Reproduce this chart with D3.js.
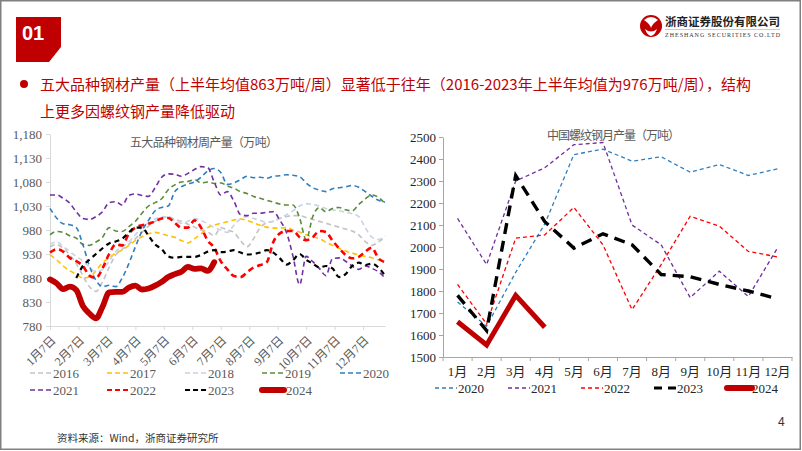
<!DOCTYPE html>
<html><head><meta charset="utf-8">
<script src="https://cdn.jsdelivr.net/npm/d3@7"></script>
<style>body{margin:0;background:#fff}svg{display:block}</style>
</head><body><svg id="c" width="802" height="451"></svg>
<script>
// ---------- data: left chart (weekly output, 10k t) ----------
const weekTicks = ["1月7日","2月7日","3月7日","4月7日","5月7日","6月7日","7月7日","8月7日","9月7日","10月7日","11月7日","12月7日"];
const leftYTicks = [780,830,880,930,980,1030,1080,1130,1180];
const leftYears = ["2016","2017","2018","2019","2020","2021","2022","2023","2024"];
const s2016 = [945,950,942,928,910,885,862,852,872,902,928,940,950,962,975,988,998,1004,1008,1002,998,992,986,980,976,968,985,980,975,958,945,962,985,995,998,1004,1008,1010,1010,1006,1002,998,994,990,986,982,978,970,956,948,955,966];
const s2017 = [928,918,905,895,888,880,882,895,912,922,932,938,948,958,966,972,975,972,968,965,958,953,962,972,985,990,994,997,1001,1003,1000,995,990,986,984,984,985,980,976,970,966,962,955,948,942,936,932,928,925,922,918,915];
const s2018 = [950,955,946,935,925,915,903,893,898,915,935,945,955,970,985,995,1003,1008,1006,1000,994,998,1004,1000,993,985,980,975,990,1003,1008,1004,1000,996,998,1005,1012,1020,1030,1035,1033,1030,1025,1022,1020,1017,1014,1008,985,965,960,968];
const s2019 = [970,977,975,968,963,950,948,955,965,985,978,977,987,998,1015,1030,1037,1045,1064,1074,1080,1081,1085,1078,1080,1077,1078,1072,1067,1060,1056,1050,1046,1042,1038,1034,1032,1032,1005,960,1008,1027,1018,1025,1027,1022,1020,1033,1045,1053,1048,1035];
const s2020 = [1025,1005,993,991,985,950,905,875,862,865,862,880,910,945,978,1000,1020,1027,1030,1060,1070,1076,1080,1090,1103,1108,1100,1075,1078,1085,1092,1089,1090,1088,1092,1093,1095,1094,1091,1078,1068,1063,1060,1066,1068,1070,1073,1069,1060,1050,1042,1038];
const s2021 = [1053,1053,1046,1036,1018,1004,1002,1008,1018,1037,1039,1032,1052,1055,1052,1050,1068,1090,1097,1096,1092,1098,1106,1112,1110,1080,1053,1060,1040,1012,1010,1015,1015,1017,1018,1000,975,925,866,925,914,900,885,920,922,915,905,898,905,900,893,880];
const s2022 = [933,940,935,922,915,905,885,880,900,930,950,948,972,985,990,993,998,1004,1005,995,985,985,1000,985,958,943,915,898,884,882,892,902,907,913,955,973,978,978,965,959,965,978,976,958,942,928,921,924,935,943,921,913];
const s2023 = [null,null,null,null,880,905,918,930,942,952,956,962,975,985,985,968,950,940,925,922,924,924,924,928,935,938,934,935,938,933,929,930,933,938,933,921,908,917,930,918,910,902,905,900,882,888,905,912,907,910,902,885];
const s2024 = [877,869,857,862,855,822,806,796,820,850,851,851,860,864,856,858,864,872,882,888,893,903,899,900,895,913];

// ---------- data: right chart (monthly rebar output, 10k t) ----------
const months = ["1月","2月","3月","4月","5月","6月","7月","8月","9月","10月","11月","12月"];
const rightYTicks = [1500,1600,1700,1800,1900,2000,2100,2200,2300,2400,2500];
const rightYears = ["2020","2021","2022","2023","2024"];
const r2020 = [1750,1640,1885,2105,2420,2445,2390,2410,2340,2375,2325,2355];
const r2021 = [2130,1920,2300,2360,2465,2475,2100,2010,1770,1890,1775,1995];
const r2022 = [1830,1650,2040,2055,2180,2010,1715,1920,2140,2095,1980,1955];
const r2023 = [1780,1620,2325,2115,1995,2060,2010,1875,1865,1830,1800,1765];
const r2024 = [1660,1555,1780,1635];

// ---------- styles ----------
const F_SERIF = "'Liberation Serif','Times New Roman','Noto Sans CJK SC',serif";
const F_CJK = "'Noto Sans CJK SC','Microsoft YaHei',sans-serif";
const RED = "#c00000";
const leftStyle = {
  "2016": {c:"#c3c3c3", w:1.6, d:"5,3.5"},
  "2017": {c:"#ffc000", w:1.6, d:"5,3.5"},
  "2018": {c:"#c8d2e4", w:1.6, d:"5,3.5"},
  "2019": {c:"#5b8c3a", w:1.6, d:"5,3.5"},
  "2020": {c:"#2e7fc0", w:1.6, d:"5,3.5"},
  "2021": {c:"#7030a0", w:1.6, d:"5,3.5"},
  "2022": {c:"#ff0000", w:2.6, d:"6,4"},
  "2023": {c:"#000000", w:2.2, d:"5,4"},
  "2024": {c:RED, w:5.8, d:null}
};
const rightStyle = {
  "2020": {c:"#2e7fc0", w:1.3, d:"4,3"},
  "2021": {c:"#7030a0", w:1.3, d:"4,3"},
  "2022": {c:"#ff0000", w:1.3, d:"4,3"},
  "2023": {c:"#000000", w:3.4, d:"11,7"},
  "2024": {c:RED, w:5, d:null}
};

const svg = d3.select("#c");
svg.append("rect").attr("x",0.75).attr("y",0.75).attr("width",799.5).attr("height",448.5)
  .attr("fill","#fff").attr("stroke","#808080").attr("stroke-width",1.5);

// ---------- header ----------
svg.append("polygon").attr("points","16,17 61,17 61,47 49,62 16,62").attr("fill",RED);
svg.append("text").attr("x",33).attr("y",40).attr("text-anchor","middle")
  .attr("font-family","'Liberation Sans',Arial,sans-serif").attr("font-weight","bold")
  .attr("font-size",20).attr("fill","#fff").text("01");

// logo
const logo = svg.append("g");
logo.append("circle").attr("cx",651).attr("cy",26).attr("r",11).attr("fill",RED);
logo.append("path").attr("d","M644,20 Q651,14 658,20 Q652,24 651,28 Q650,24 644,20 Z M645,29 Q651,34 657,29 Q655,35 651,36 Q647,35 645,29 Z").attr("fill","#fff");
logo.append("text").attr("x",665).attr("y",26).attr("font-family",F_CJK).attr("font-weight","bold")
  .attr("font-size",11.5).attr("fill","#222").attr("textLength",115).text("浙商证券股份有限公司");
logo.append("line").attr("x1",665).attr("x2",780).attr("y1",29.5).attr("y2",29.5).attr("stroke","#999").attr("stroke-width",0.5);
logo.append("text").attr("x",665).attr("y",36.5).attr("font-family",F_SERIF)
  .attr("font-size",6).attr("fill","#333").attr("textLength",115).text("ZHESHANG SECURITIES CO.LTD");

// bullet text
svg.append("circle").attr("cx",24).attr("cy",84).attr("r",4).attr("fill",RED);
svg.append("text").attr("x",40).attr("y",90).attr("font-family",F_CJK).attr("font-size",15).attr("fill",RED)
  .text("五大品种钢材产量（上半年均值863万吨/周）显著低于往年（2016-2023年上半年均值为976万吨/周），结构");
svg.append("text").attr("x",40).attr("y",117).attr("font-family",F_CJK).attr("font-size",15).attr("fill",RED)
  .text("上更多因螺纹钢产量降低驱动");

// ---------- left chart ----------
const xL = d3.scaleLinear().domain([0,51]).range([50,385]);
const yL = d3.scaleLinear().domain([780,1180]).range([326,134]);

const gyL = svg.append("g").attr("transform",`translate(${xL(0)},0)`)
  .call(d3.axisLeft(yL).tickValues(leftYTicks).tickFormat(d3.format(",")).tickSize(4).tickSizeOuter(0).tickPadding(4));
gyL.select(".domain").attr("stroke","#d9d9d9");
gyL.selectAll(".tick line").attr("stroke","#d9d9d9");
gyL.selectAll("text").attr("font-family",F_SERIF).attr("font-size",13).attr("fill","#595959");

const monthPos = weekTicks.map((_,i)=> i*52/12);
const gxL = svg.append("g").attr("transform",`translate(0,${yL(780)})`)
  .call(d3.axisBottom(xL).tickValues(monthPos).tickFormat((d,i)=>weekTicks[i]).tickSize(4).tickSizeOuter(0));
gxL.select(".domain").attr("stroke","#d9d9d9");
gxL.selectAll(".tick line").attr("stroke","#d9d9d9");
gxL.selectAll("text").attr("font-family",F_SERIF).attr("font-size",12).attr("fill","#595959")
  .attr("x",0).attr("y",0).attr("dy","0.35em").attr("transform","translate(3,12) rotate(-45)")
  .style("text-anchor","end");

svg.append("text").attr("x",130).attr("y",147).attr("font-family",F_CJK).attr("font-size",12)
  .attr("fill","#595959").attr("textLength",148).text("五大品种钢材周产量（万吨）");

const leftSeries = [s2016,s2017,s2018,s2019,s2020,s2021,s2022,s2023,s2024];
const lineL = d3.line().defined(d=>d!=null).x((d,i)=>xL(i)).y(d=>yL(d)).curve(d3.curveMonotoneX);
leftSeries.forEach((s,k)=>{
  const st = leftStyle[leftYears[k]];
  svg.append("path").datum(s).attr("d",lineL).attr("fill","none")
    .attr("stroke",st.c).attr("stroke-width",st.w).attr("stroke-dasharray",st.d)
    .attr("stroke-linejoin","round").attr("stroke-linecap", st.d ? "butt" : "round");
});

// left legend
const legLx = [30,107,185,262,340];
const legLy = [373,390];
leftYears.forEach((yr,k)=>{
  const st = leftStyle[yr];
  const x0 = legLx[k%5], y0 = legLy[Math.floor(k/5)];
  svg.append("line").attr("x1",x0).attr("x2",x0+22).attr("y1",y0).attr("y2",y0)
    .attr("stroke",st.c).attr("stroke-width",st.d?Math.min(st.w,2):6).attr("stroke-dasharray",st.d?"5,3":null)
    .attr("stroke-linecap",st.d?"butt":"round");
  svg.append("text").attr("x",x0+(st.d?23:24)).attr("y",y0).attr("dy","0.35em")
    .attr("font-family",F_SERIF).attr("font-size",13).attr("fill","#595959").text(yr);
});

// ---------- right chart ----------
const xR = d3.scaleBand().domain(months).range([443,792]);
const yR = d3.scaleLinear().domain([1500,2500]).range([357,137]);

const gyR = svg.append("g").attr("transform",`translate(443,0)`)
  .call(d3.axisLeft(yR).tickValues(rightYTicks).tickFormat(d3.format("d")).tickSize(4).tickSizeOuter(0).tickPadding(3));
gyR.select(".domain").attr("stroke","#a6a6a6");
gyR.selectAll(".tick line").attr("stroke","#a6a6a6");
gyR.selectAll("text").attr("font-family",F_SERIF).attr("font-size",13).attr("fill","#262626");

const gxR = svg.append("g").attr("transform",`translate(0,${yR(1500)})`)
  .call(d3.axisBottom(xR).tickSize(0).tickPadding(10).tickSizeOuter(0));
gxR.select(".domain").attr("stroke","#a6a6a6");
gxR.selectAll("text").attr("font-family",F_SERIF).attr("font-size",13).attr("fill","#262626");
months.concat(["end"]).forEach((m,i)=>{
  const x = i<months.length ? xR(m) : xR(months[months.length-1])+xR.bandwidth();
  gxR.append("line").attr("x1",x).attr("x2",x).attr("y1",0).attr("y2",4).attr("stroke","#a6a6a6");
});

svg.append("text").attr("x",547).attr("y",140).attr("font-family",F_CJK).attr("font-size",12)
  .attr("fill","#595959").attr("textLength",133).text("中国螺纹钢月产量（万吨）");

const rightSeries = [r2020,r2021,r2022,r2023,r2024];
const lineR = d3.line().x((d,i)=>xR(months[i])+xR.bandwidth()/2).y(d=>yR(d));
rightSeries.forEach((s,k)=>{
  const st = rightStyle[rightYears[k]];
  svg.append("path").datum(s).attr("d",lineR).attr("fill","none")
    .attr("stroke",st.c).attr("stroke-width",st.w).attr("stroke-dasharray",st.d)
    .attr("stroke-linejoin","miter").attr("stroke-linecap","butt");
});

// right legend
const legRx = [435,508,581,654,727];
rightYears.forEach((yr,k)=>{
  const st = rightStyle[yr];
  const x0 = legRx[k], y0 = 388;
  let dash = st.d ? (yr==="2023" ? "8,6" : "4,3") : null;
  svg.append("line").attr("x1",x0).attr("x2",x0+(yr==="2024"?25:22)).attr("y1",y0).attr("y2",y0)
    .attr("stroke",st.c).attr("stroke-width",yr==="2024"?6:(yr==="2023"?3:1.4)).attr("stroke-dasharray",dash)
    .attr("stroke-linecap",yr==="2024"?"round":"butt");
  svg.append("text").attr("x",x0+(yr==="2024"?25:23)).attr("y",y0).attr("dy","0.35em")
    .attr("font-family",F_SERIF).attr("font-size",13).attr("fill","#262626").text(yr);
});

// ---------- footer ----------
svg.append("text").attr("x",57).attr("y",442).attr("font-family",F_CJK).attr("font-size",10.5)
  .attr("fill","#333").text("资料来源：Wind，浙商证券研究所");
svg.append("text").attr("x",778).attr("y",426).attr("font-family","'Liberation Sans',Arial,sans-serif").attr("font-size",12)
  .attr("fill","#333").text("4");
</script></body></html>
